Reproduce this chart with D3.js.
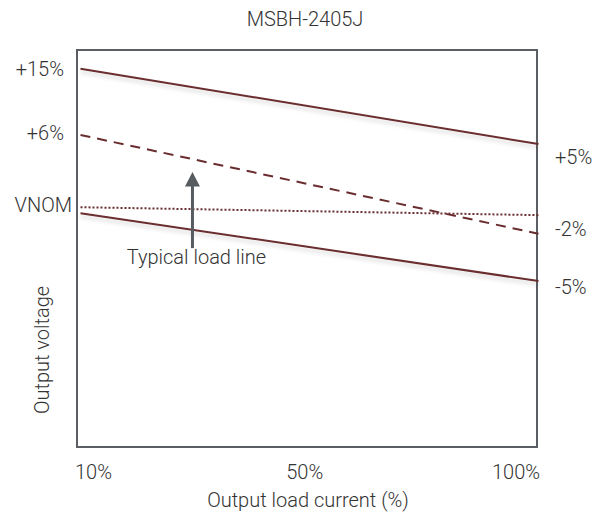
<!DOCTYPE html>
<html><head><meta charset="utf-8">
<script src="https://cdn.jsdelivr.net/npm/d3@7"></script>
<style>
body{margin:0;background:#fff;}
text{font-family:Roboto,"Noto Sans",sans-serif;font-weight:300;fill:#333;}
</style></head>
<body><svg id="c" width="606" height="518"></svg>
<script>
// ---- data ----
const title = "MSBH-2405J";
const xTickLabels = ["10%", "50%", "100%"];
const loadRange = [10, 100];            // output load current (%)
const upperLimit = [95.3, 76.3];        // schematic voltage units at 10% / 100%
const typicalLoad = [78.6, 53.7];
const nominal = [60.4, 58.4];
const lowerLimit = [58.9, 41.8];
const leftLabels = ["+15%", "+6%", "VNOM"];
const leftLabelValues = [95.1, 79.1, 61.0];
const rightLabels = ["+5%", "-2%", "-5%"];
const rightLabelValues = [73.0, 54.9, 40.3];
const arrowLoad = 32;
const arrowFrom = 50.1, arrowTo = 69.3;
const arrowText = "Typical load line";
const xTitle = "Output load current (%)";
const yTitle = "Output voltage";

// ---- drawing ----
const svg = d3.select("#c");
const box = {l: 77, r: 537, t: 50, b: 447};
const x = d3.scaleLinear().domain(loadRange).range([80.5, 538.5]);
const y = d3.scaleLinear().domain([0, 100]).range([box.b, box.t]);
const xt = d3.scalePoint().domain(xTickLabels).range([93.5, 516]);
const fs = "20px";

const defs = svg.append("defs");
const f = defs.append("filter").attr("id", "sh").attr("x", "-5%").attr("y", "-50%").attr("width", "110%").attr("height", "300%");
f.append("feDropShadow").attr("dx", 0).attr("dy", 3).attr("stdDeviation", 2)
  .attr("flood-color", "#000").attr("flood-opacity", 0.18);

svg.append("text").attr("x", 305).attr("y", 19).attr("text-anchor", "middle")
  .attr("dominant-baseline", "central").style("font-size", fs).text(title);

svg.append("rect").attr("x", box.l).attr("y", box.t)
  .attr("width", box.r - box.l).attr("height", box.b - box.t)
  .attr("fill", "none").attr("stroke", "#5b5f63").attr("stroke-width", 2);

const line = d3.line().x((d, i) => x(loadRange[i])).y(d => y(d));
const col = "#6a2d2f";
const series = [
  {v: upperLimit, dash: null},
  {v: typicalLoad, dash: "10,7"},
  {v: nominal, dash: "2,2"},
  {v: lowerLimit, dash: null}
];
svg.selectAll(".ln").data(series).join("path").attr("class", "ln")
  .attr("d", d => line(d.v)).attr("fill", "none").attr("stroke", col)
  .attr("stroke-width", 2).attr("stroke-dasharray", d => d.dash)
  .attr("filter", d => d.dash ? null : "url(#sh)");

// arrow
const ax = x(arrowLoad);
svg.append("line").attr("x1", ax).attr("x2", ax)
  .attr("y1", y(arrowFrom)).attr("y2", y(arrowTo) + 12)
  .attr("stroke", "#575c61").attr("stroke-width", 3);
svg.append("path")
  .attr("d", `M${ax},${y(arrowTo)} L${ax + 7.5},${y(arrowTo) + 14.5} L${ax - 7.5},${y(arrowTo) + 14.5} Z`)
  .attr("fill", "#575c61");
svg.append("text").attr("x", ax + 4).attr("y", 257).attr("text-anchor", "middle")
  .attr("dominant-baseline", "central").style("font-size", fs).text(arrowText);

// left labels
svg.selectAll(".ll").data(leftLabels).join("text").attr("class", "ll")
  .attr("x", d => d === "VNOM" ? 72 : 64).attr("y", (d, i) => y(leftLabelValues[i]))
  .attr("text-anchor", "end").attr("dominant-baseline", "central")
  .style("font-size", fs).text(d => d);
// right labels
svg.selectAll(".rl").data(rightLabels).join("text").attr("class", "rl")
  .attr("x", 555).attr("y", (d, i) => y(rightLabelValues[i]))
  .attr("text-anchor", "start").attr("dominant-baseline", "central")
  .style("font-size", fs).text(d => d);

// x tick labels
svg.selectAll(".xt").data(xTickLabels).join("text").attr("class", "xt")
  .attr("x", d => xt(d)).attr("y", 472).attr("text-anchor", "middle")
  .attr("dominant-baseline", "central").style("font-size", fs).text(d => d);

svg.append("text").attr("x", 308).attr("y", 500).attr("text-anchor", "middle")
  .attr("dominant-baseline", "central").style("font-size", fs).text(xTitle);
svg.append("text").attr("transform", "translate(42,350) rotate(-90)")
  .attr("text-anchor", "middle").attr("dominant-baseline", "central")
  .style("font-size", fs).text(yTitle);
</script></body></html>
